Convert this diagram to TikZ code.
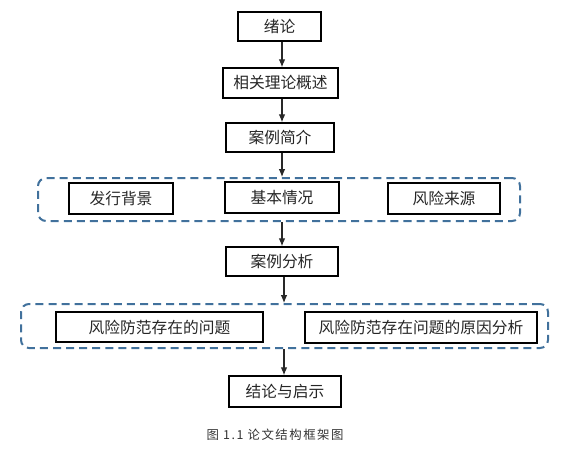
\documentclass[tikz,border=0pt]{standalone}
\usepackage{fontspec}
\setmainfont{Noto Sans CJK SC}
\newfontfamily\capfont[LetterSpace=12]{Noto Sans CJK SC}
\usetikzlibrary{arrows.meta}
\definecolor{grpblue}{RGB}{65,113,156}
\definecolor{linegray}{RGB}{40,40,40}
\begin{document}
\begin{tikzpicture}[x=0.75pt,y=-0.75pt,
  box/.style={draw=black,line width=1.1pt,fill=white,inner sep=0pt,
    font=\fontsize{11.8pt}{13pt}\selectfont,text=black!85},
  grp/.style={draw=grpblue,line width=1.5pt,dash pattern=on 6pt off 3.8pt,
    rounded corners=6pt,inner sep=0pt},
  arr/.style={draw=linegray,line width=0.8pt,-{Latex[length=6pt,width=5pt]}},
  plain/.style={draw=linegray,line width=0.8pt}]
\useasboundingbox (0,0) rectangle (566,460);
\coordinate (axis) at (282,0);
\coordinate (axisb) at (284,0);
% main column
\node[box,minimum width=83*0.75pt,minimum height=29*0.75pt] (b1) at (279.5,26.5) {绪论};
\node[box,minimum width=115*0.75pt,minimum height=30*0.75pt] (b2) at (280.5,83) {相关理论概述};
\node[box,minimum width=108*0.75pt,minimum height=29*0.75pt] (b3) at (280,137.5) {案例简介};
% group 1
\node[grp,minimum width=482*0.75pt,minimum height=43*0.75pt] (g1) at (279,199.5) {};
\node[box,minimum width=104*0.75pt,minimum height=31*0.75pt] (ga) at (121,198.5) {发行背景};
\node[box,minimum width=114*0.75pt,minimum height=31*0.75pt] (gb) at (282,197.5) {基本情况};
\node[box,minimum width=112*0.75pt,minimum height=31*0.75pt] (gc) at (444,198.5) {风险来源};
\node[box,minimum width=112*0.75pt,minimum height=29*0.75pt] (b4) at (282,261.5) {案例分析};
% group 2
\node[grp,minimum width=527*0.75pt,minimum height=44*0.75pt] (g2) at (284.5,326) {};
\node[box,minimum width=207*0.75pt,minimum height=30*0.75pt] (gd) at (159.5,327) {风险防范存在的问题};
\node[box,minimum width=232*0.75pt,minimum height=31*0.75pt] (ge) at (421,327.5) {风险防范存在问题的原因分析};
\node[box,minimum width=112*0.75pt,minimum height=31*0.75pt] (b5) at (285,391.5) {结论与启示};
% caption
\node[font=\capfont\fontsize{9.3pt}{11pt}\selectfont,text=black!80] (cap) at (275,435) {图 1.1 论文结构框架图};
% connectors
\draw[arr] (b1.south -| axis) -- (b2.north -| axis);
\draw[arr] (b2.south -| axis) -- (b3.north -| axis);
\draw[arr] (b3.south -| axis) -- (g1.north -| axis);
\draw[arr] (g1.south -| axis) -- (b4.north -| axis);
\draw[arr] (b4.south -| axisb) -- (g2.north -| axisb);
\draw[arr] (g2.south -| axisb) -- (b5.north -| axisb);
\end{tikzpicture}
\end{document}
